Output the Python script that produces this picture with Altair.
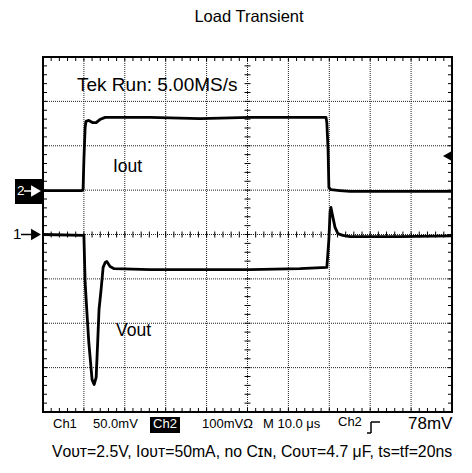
import altair as alt
import pandas as pd

# ---- data (time in microseconds, 10 us/div; trace level in screen divisions) ----
vout_t = [0, 10.0, 10.3, 10.8, 11.2, 12.0, 12.5, 13.0, 13.4, 13.7, 14.2, 14.7, 15.2, 15.6,
          16.4, 17.4, 26.2, 38.4, 50.6, 62.8, 69.4, 69.9, 70.2, 70.4, 70.9, 71.4, 72.1,
          73.3, 75.1, 87.3, 100]
vout_v = [0, -0.02, -1.08, -1.85, -2.43, -3.27, -3.38, -3.22, -2.36, -1.69, -1.24, -0.74,
          -0.63, -0.61, -0.72, -0.77, -0.79, -0.79, -0.79, -0.77, -0.74, -0.11, 0.52, 0.61,
          0.38, 0.16, 0.02, -0.02, -0.05, -0.05, -0.03]

iout_t = [0, 9.5, 9.8, 10.0, 10.3, 10.5, 11.2, 12.2, 13.0, 13.9, 15.2, 26.2, 38.4, 50.6,
          62.8, 69.2, 69.4, 69.7, 69.9, 70.4, 72.6, 75.1, 100]
iout_v = [0.99, 0.99, 1.01, 1.69, 2.41, 2.55, 2.57, 2.52, 2.52, 2.59, 2.64, 2.64, 2.61, 2.64,
          2.64, 2.64, 2.52, 1.91, 1.06, 1.01, 0.99, 0.97, 0.97]

x_grid = list(range(10, 100, 10))
y_grid = list(range(-3, 4))
x_minor = [i * 2 for i in range(51)]
y_minor = [round(-4 + i * 0.2, 2) for i in range(41)]

W, H = 409, 355
FONT = "Liberation Sans"

xscale = alt.Scale(domain=[0, 100], nice=False, zero=False)
yscale = alt.Scale(domain=[-4, 4], nice=False, zero=False)

df_v = pd.DataFrame({"t": vout_t, "v": vout_v})
df_i = pd.DataFrame({"t": iout_t, "v": iout_v})
df_xg = pd.DataFrame({"t": x_grid})
df_yg = pd.DataFrame({"v": y_grid})
df_xm = pd.DataFrame({"t": x_minor})
df_ym = pd.DataFrame({"v": y_minor})
one = pd.DataFrame({"n": [0]})

X = lambda: alt.X("t:Q", scale=xscale, axis=None)
Y = lambda: alt.Y("v:Q", scale=yscale, axis=None)

layers = []

# dotted graticule
layers.append(
    alt.Chart(df_xg).mark_rule(color="#222", strokeWidth=1, strokeDash=[1, 1]).encode(
        x=X(), y=alt.value(0), y2=alt.value(H))
)
layers.append(
    alt.Chart(df_yg).mark_rule(color="#222", strokeWidth=1, strokeDash=[1, 1]).encode(
        y=Y(), x=alt.value(0), x2=alt.value(W))
)

# minor ticks on frame edges and center cross
tick_len = 4
for (y1, y2) in [(0, tick_len), (H - tick_len, H), (H / 2 - 3, H / 2 + 3)]:
    layers.append(
        alt.Chart(df_xm).mark_rule(color="black", strokeWidth=1).encode(
            x=X(), y=alt.value(y1), y2=alt.value(y2))
    )
for (x1, x2) in [(0, tick_len), (W - tick_len, W), (W / 2 - 3, W / 2 + 3)]:
    layers.append(
        alt.Chart(df_ym).mark_rule(color="black", strokeWidth=1).encode(
            y=Y(), x=alt.value(x1), x2=alt.value(x2))
    )

# traces
layers.append(
    alt.Chart(df_v).mark_line(color="black", strokeWidth=2.8, strokeJoin="round").encode(
        x=X(), y=Y(), order="t:Q")
)
layers.append(
    alt.Chart(df_i).mark_line(color="black", strokeWidth=2.8, strokeJoin="round").encode(
        x=X(), y=Y(), order="t:Q")
)


def text(s, x, y, size, color="black", align="left", baseline="middle"):
    return alt.Chart(one).mark_text(font=FONT, fontSize=size, color=color, align=align,
                                    baseline=baseline).encode(
        x=alt.value(x), y=alt.value(y), text=alt.value(s))


def rect(x1, x2, y1, y2, color="black"):
    return alt.Chart(one).mark_rect(color=color).encode(
        x=alt.value(x1), x2=alt.value(x2), y=alt.value(y1), y2=alt.value(y2))


def hline(x1, x2, y, color="black", w=1.5):
    return alt.Chart(one).mark_rule(color=color, strokeWidth=w).encode(
        x=alt.value(x1), x2=alt.value(x2), y=alt.value(y))


def vline(x, y1, y2, color="black", w=1.5):
    return alt.Chart(one).mark_rule(color=color, strokeWidth=w).encode(
        x=alt.value(x), y=alt.value(y1), y2=alt.value(y2))


def tri(x, y, shape, size, color="black"):
    return alt.Chart(one).mark_point(shape=shape, filled=True, color=color, opacity=1,
                                     strokeWidth=0).encode(
        x=alt.value(x), y=alt.value(y), size=alt.value(size))


# texts
layers.append(text("Load Transient", 206, -40, 16.5, align="center"))
layers.append(text("Tek Run: 5.00MS/s", 34, 28, 19))
layers.append(text("Iout", 70, 110, 17.5))
layers.append(text("Vout", 73, 274, 17.5))

# channel markers on the left
layers.append(rect(-28, 0, 122, 147))
layers.append(text("2", -26, 134, 13.5, color="white"))
layers.append(hline(-19, -11, 134, color="white"))
layers.append(tri(-7, 134, "triangle-right", 130, color="white"))
layers.append(text("1", -30, 177, 15))
layers.append(hline(-22, -12, H / 2))
layers.append(tri(-7, H / 2, "triangle-right", 130))

# trigger level marker on the right
layers.append(hline(403, W, 99))
layers.append(tri(404, 99, "triangle-left", 85))

# bottom status row
layers.append(text("Ch1", 10, 367, 13))
layers.append(text("50.0mV", 50, 367, 13))
layers.append(rect(107, 137, 360, 376))
layers.append(text("Ch2", 122, 367, 13, color="white", align="center"))
layers.append(text("100mVΩ", 159, 367, 13))
layers.append(text("M 10.0 μs", 220, 367, 13))
layers.append(text("Ch2", 295, 365, 13))
layers.append(hline(324, 328, 376))
layers.append(vline(328, 365, 376))
layers.append(hline(328, 337, 365))
layers.append(text("78mV", 365, 367, 17))

# caption
layers.append(text("Vᴏᴜᴛ=2.5V, Iᴏᴜᴛ=50mA, no Cɪɴ, Cᴏᴜᴛ=4.7 μF, ts=tf=20ns", 209, 395, 15.8,
                   align="center"))

chart = alt.layer(*layers).properties(
    width=W, height=H,
    autosize=alt.AutoSizeParams(type="none"),
    padding={"left": 35, "top": 49, "right": 12, "bottom": 53},
    background="white",
).configure_view(stroke="black", strokeWidth=2)

chart.save("out.html", embed_options={"renderer": "svg", "actions": False})
